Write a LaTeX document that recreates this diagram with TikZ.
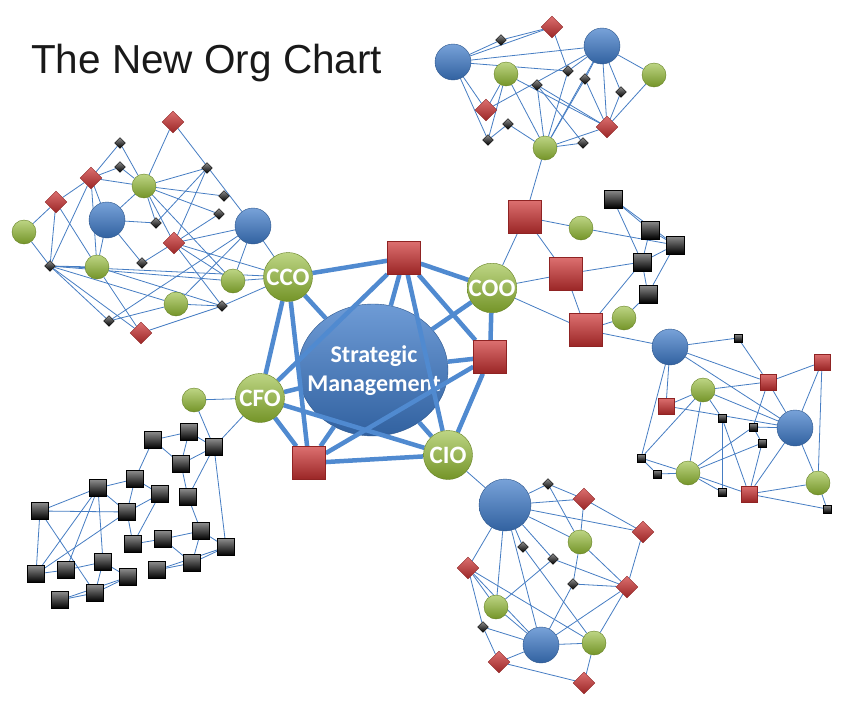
\documentclass[tikz,border=0pt]{standalone}
\usepackage{fontspec}
\setmainfont{Liberation Sans}
\newfontfamily\calibri{Carlito}
\usetikzlibrary{shapes.geometric}
\definecolor{oblue}{RGB}{62,122,200}
\definecolor{ogreen}{RGB}{145,185,50}
\definecolor{ored}{RGB}{205,50,50}
\definecolor{olink}{RGB}{70,125,195}
\definecolor{ospoke}{RGB}{80,138,208}
\pgfdeclarelayer{base}
\pgfdeclarelayer{edges}
\pgfsetlayers{base,edges,main}
\tikzset{
  org/.style={
    inner sep = 0pt,
    draw,
    line width = 0.4pt
  },
  ball/.style={
    org, circle, minimum size = 36pt,
    draw = oblue!70!black,
    top color = oblue!70!white, middle color = oblue, bottom color = oblue!80!black
  },
  bigball/.style={ball, minimum size = 52pt},
  pea/.style={
    org, circle, minimum size = 24pt,
    draw = ogreen!70!black,
    top color = ogreen!60!white, middle color = ogreen, bottom color = ogreen!80!black
  },
  exec/.style={
    pea, minimum size = 49pt,
    text = white,
    font = \calibri\bfseries\fontsize{25}{25}\selectfont
  },
  rdia/.style={
    org, diamond, aspect = 1, minimum size = 22pt,
    draw = ored!70!black,
    top color = ored!70!white, middle color = ored, bottom color = ored!75!black
  },
  kdia/.style={
    org, diamond, aspect = 1, minimum size = 11pt,
    draw = black,
    top color = black!45, bottom color = black
  },
  rsq/.style={
    org, rectangle, minimum size = 33pt,
    draw = ored!70!black,
    top color = ored!70!white, middle color = ored, bottom color = ored!75!black
  },
  rsqs/.style={rsq, minimum size = 16pt},
  ksq/.style={
    org, rectangle, minimum size = 17pt,
    draw = black,
    top color = black!45, middle color = black!90, bottom color = black
  },
  ksqs/.style={ksq, minimum size = 8pt},
  core/.style={
    org, ellipse, minimum width = 150pt, minimum height = 132pt,
    draw = oblue!70!black,
    top color = oblue!75!white, middle color = oblue, bottom color = oblue!80!black
  },
  coretext/.style={
    inner sep = 0pt, text = white, align = center,
    font = \calibri\bfseries\fontsize{24}{29}\selectfont
  },
  link/.style={draw = olink, line width = 0.8pt},
  spoke/.style={draw = ospoke, line width = 4.5pt}
}

\begin{document}
\begin{tikzpicture}[x=1pt,y=-1pt]
\begin{pgfonlayer}{base}
  \fill[white] (0,0) rectangle (847,707);
\end{pgfonlayer}
\useasboundingbox (0,0) rectangle (847,707);
\node[anchor=base west, inner sep=0pt, text=black!90,
  font=\fontsize{40.5}{44}\selectfont] (title) at (31,73) {The New Org Chart};

% core
\begin{pgfonlayer}{base}
  \node[core] (sm) at (373,370) {};
  \node[coretext] (smtext) at (374,371) {Strategic\\Management};
\end{pgfonlayer}
\node[exec] (cco) at (288,277) {CCO};
\node[exec] (coo) at (492,288) {COO};
\node[exec] (cfo) at (260,398) {CFO};
\node[exec] (cio) at (448,455) {CIO};
\node[rsq] (sq1) at (404,258) {};
\node[rsq] (sq2) at (490,357) {};
\node[rsq] (sq3) at (309,463) {};

% upper left
\foreach \n/\x/\y in {ul1/173/122, ul4/91/178, ul9/56/202, ul14/174/243, ul22/141/333}
  \node[rdia] (\n) at (\x,\y) {};
\foreach \n/\x/\y in {ul2/120/143, ul3/120/167, ul6/207/168, ul7/224/196, ul8/219/214,
    ul13/156/223, ul15/50/266, ul17/142/263, ul20/222/306, ul21/109/321}
  \node[kdia] (\n) at (\x,\y) {};
\foreach \n/\x/\y in {ul5/144/186, ul12/24/232, ul16/97/267, ul18/233/281, ul19/176/304}
  \node[pea] (\n) at (\x,\y) {};
\node[ball] (ul10) at (107,220) {};
\node[ball] (ul11) at (253,226) {};

% top
\node[ball] (tp1) at (453,62) {};
\node[ball] (tp2) at (602,46) {};
\foreach \n/\x/\y in {tp3/552/27, tp11/486/110, tp12/607/127}
  \node[rdia] (\n) at (\x,\y) {};
\foreach \n/\x/\y in {tp4/501/40, tp7/568/71, tp8/585/79, tp9/537/85, tp10/621/92,
    tp13/508/124, tp14/488/140, tp15/583/143}
  \node[kdia] (\n) at (\x,\y) {};
\foreach \n/\x/\y in {tp5/506/74, tp6/654/75, tp16/545/148}
  \node[pea] (\n) at (\x,\y) {};

% middle right
\foreach \n/\x/\y in {mr1/525/217, mr3/566/274, mr4/586/330}
  \node[rsq] (\n) at (\x,\y) {};
\node[pea] (mr2) at (581,228) {};
\node[pea] (mr5) at (624,318) {};
\foreach \n/\x/\y in {mr6/613/199, mr7/650/230, mr8/675/245, mr9/642/262, mr10/648/294}
  \node[ksq, minimum size=18pt] (\n) at (\x,\y) {};

% right
\node[ball] (rt1) at (670,347) {};
\node[ball] (rt9) at (795,428) {};
\foreach \n/\x/\y in {rt3/822/362, rt4/768/382, rt6/666/406, rt15/749/494}
  \node[rsqs] (\n) at (\x,\y) {};
\foreach \n/\x/\y in {rt5/703/390, rt13/688/473, rt16/818/483}
  \node[pea] (\n) at (\x,\y) {};
\foreach \n/\x/\y in {rt2/738/338, rt7/722/418, rt8/753/427, rt10/762/443,
    rt11/641/458, rt12/657/474, rt14/722/492, rt17/827/509}
  \node[ksqs] (\n) at (\x,\y) {};

% bottom
\node[bigball] (bt1) at (505,505) {};
\node[ball] (bt13) at (541,645) {};
\foreach \n/\x/\y in {bt3/584/499, bt4/643/532, bt8/468/568, bt10/627/587,
    bt15/499/662, bt16/584/683}
  \node[rdia] (\n) at (\x,\y) {};
\foreach \n/\x/\y in {bt2/548/484, bt6/523/547, bt7/553/559, bt9/573/584, bt12/483/627}
  \node[kdia] (\n) at (\x,\y) {};
\foreach \n/\x/\y in {bt5/580/542, bt11/496/607, bt14/594/643}
  \node[pea] (\n) at (\x,\y) {};

% bottom left
\node[pea] (bl1) at (194,400) {};
\foreach \n/\x/\y in {bl2/189/432, bl3/153/440, bl4/214/447, bl5/181/464, bl6/135/479,
    bl7/98/488, bl8/160/494, bl9/188/497, bl10/40/511, bl11/127/512, bl12/201/531,
    bl13/163/539, bl14/133/544, bl15/226/547, bl16/103/562, bl17/192/563,
    bl18/157/570, bl19/36/574, bl20/66/570, bl21/128/577, bl22/95/593, bl23/60/600}
  \node[ksq] (\n) at (\x,\y) {};

\begin{pgfonlayer}{edges}
  \foreach \a/\b in {cco/sq1, sq1/coo, coo/sq2, sq2/cio, cio/sq3, sq3/cfo, cfo/cco,
      cco/sm, cco/sq3, cfo/sq1, sq1/sm, sq1/cio, sq1/sq2, coo/sm, cfo/sm, cfo/cio,
      sm/sq2, sm/cio, sq2/sq3, sm/sq3}
    \draw[spoke] (\a) -- (\b);
  % upper left
  \foreach \a/\b in {ul1/ul5, ul1/ul11, ul2/ul4, ul2/ul5, ul3/ul4, ul3/ul5, ul4/ul9,
      ul4/ul5, ul4/ul10, ul4/ul15, ul4/ul16, ul9/ul12, ul9/ul15, ul9/ul16, ul12/ul15,
      ul5/ul10, ul5/ul6, ul5/ul7, ul5/ul8, ul5/ul13, ul5/ul14, ul5/ul18, ul10/ul13,
      ul10/ul16, ul10/ul17, ul6/ul14, ul6/ul13, ul14/ul11, ul14/ul8, ul14/ul18,
      ul14/ul20, ul14/ul17, ul11/ul18, ul11/ul19, ul11/ul21, ul15/ul16, ul15/ul18,
      ul15/ul19, ul15/ul21, ul15/ul22, ul16/ul22, ul16/ul20, ul19/ul20, ul19/ul21,
      ul20/ul22, ul11/cco, ul18/cco, ul20/cco, ul14/cco, ul15/cco}
    \draw[link] (\a) -- (\b);
  % top
  \foreach \a/\b in {tp1/tp4, tp4/tp3, tp1/tp3, tp1/tp2, tp1/tp7, tp1/tp11, tp1/tp14,
      tp3/tp7, tp2/tp6, tp2/tp7, tp2/tp8, tp2/tp16, tp2/tp12, tp2/tp11, tp2/tp10,
      tp6/tp12, tp5/tp11, tp5/tp14, tp5/tp16, tp5/tp12, tp9/tp12, tp9/tp16, tp9/tp15,
      tp8/tp16, tp8/tp12, tp7/tp16, tp13/tp14, tp13/tp16, tp16/tp15, tp16/tp12,
      tp10/tp12}
    \draw[link] (\a) -- (\b);
  % middle right
  \foreach \a/\b in {mr1/mr2, mr1/mr3, mr1/coo, mr1/tp16, mr2/mr8, mr3/mr9, mr3/mr4,
      mr3/coo, coo/mr4, mr4/mr9, mr4/mr5, mr4/rt1, mr5/mr10, mr6/mr7, mr6/mr8,
      mr6/mr9, mr7/mr8, mr7/mr9, mr9/mr8, mr9/mr10, mr10/mr8}
    \draw[link] (\a) -- (\b);
  % right
  \foreach \a/\b in {rt1/rt2, rt1/rt4, rt1/rt9, rt1/rt6, rt1/rt11, rt2/rt4, rt3/rt4,
      rt3/rt9, rt3/rt16, rt4/rt5, rt4/rt9, rt4/rt8, rt5/rt6, rt5/rt11, rt5/rt13,
      rt5/rt7, rt5/rt9, rt6/rt9, rt7/rt14, rt7/rt15, rt8/rt9, rt8/rt10, rt8/rt13,
      rt10/rt15, rt10/rt13, rt9/rt15, rt9/rt16, rt11/rt12, rt11/rt13, rt12/rt13,
      rt13/rt14, rt13/rt15, rt15/rt16, rt15/rt17, rt16/rt17}
    \draw[link] (\a) -- (\b);
  % bottom
  \foreach \a/\b in {bt1/cio, bt1/bt2, bt1/bt3, bt1/bt4, bt1/bt5, bt1/bt7, bt1/bt8,
      bt1/bt11, bt1/bt13, bt1/bt6, bt6/bt14, bt2/bt3, bt2/bt5, bt3/bt5, bt3/bt4,
      bt4/bt10, bt5/bt10, bt5/bt9, bt7/bt10, bt7/bt11, bt9/bt10, bt9/bt13, bt8/bt11,
      bt8/bt12, bt8/bt13, bt8/bt14, bt11/bt13, bt12/bt13, bt12/bt15, bt13/bt15,
      bt13/bt14, bt13/bt10, bt14/bt10, bt14/bt16, bt15/bt16}
    \draw[link] (\a) -- (\b);
  % bottom left
  \foreach \a/\b in {bl1/cfo, bl1/bl4, cfo/bl4, bl2/bl3, bl2/bl5, bl2/bl4, bl3/bl5,
      bl3/bl6, bl5/bl4, bl5/bl9, bl4/bl9, bl4/bl15, bl6/bl7, bl6/bl11, bl6/bl8,
      bl7/bl11, bl7/bl19, bl7/bl20, bl7/bl16, bl7/bl10, bl11/bl8, bl11/bl14,
      bl11/bl10, bl11/bl19, bl8/bl14, bl9/bl12, bl12/bl13, bl12/bl17, bl12/bl15,
      bl13/bl14, bl13/bl17, bl17/bl15, bl17/bl18, bl15/bl18, bl10/bl19, bl10/bl22,
      bl19/bl20, bl20/bl16, bl16/bl22, bl16/bl21, bl22/bl23, bl22/bl21, bl23/bl21}
    \draw[link] (\a) -- (\b);
\end{pgfonlayer}
\end{tikzpicture}
\end{document}
